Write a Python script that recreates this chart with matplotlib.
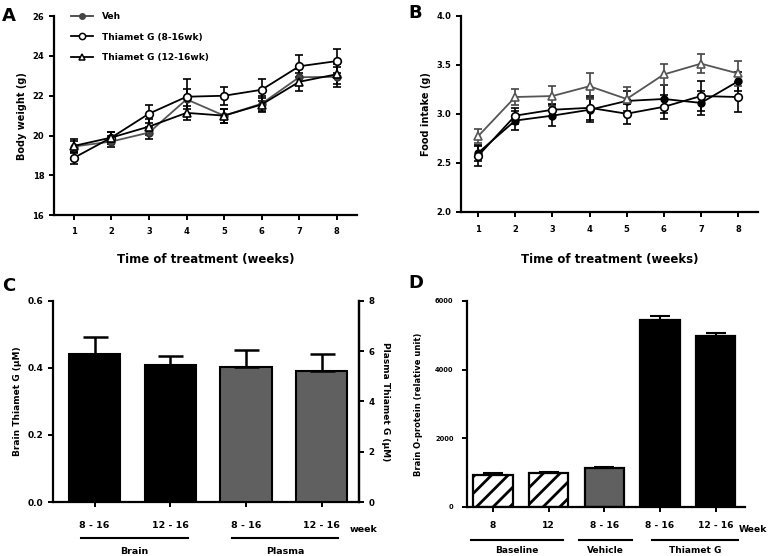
import numpy as np
import matplotlib
matplotlib.use("Agg")
import matplotlib.pyplot as plt
from matplotlib import transforms
from matplotlib.lines import Line2D

plt.rcParams['font.family'] = ['DejaVu Sans']
plt.rcParams['font.weight'] = 'bold'
plt.rcParams['axes.labelweight'] = 'bold'
plt.rcParams['hatch.linewidth'] = 2.0

# --- data ---
weeks = [1, 2, 3, 4, 5, 6, 7, 8]

bw_veh = [19.45, 19.7, 20.15, 21.82, 21.0, 21.6, 22.93, 22.95]
bw_veh_err = [0.3, 0.3, 0.3, 0.5, 0.35, 0.4, 0.4, 0.5]
bw_tg816 = [18.88, 19.9, 21.1, 21.95, 22.0, 22.3, 23.48, 23.74]
bw_tg816_err = [0.3, 0.3, 0.45, 0.9, 0.45, 0.55, 0.55, 0.6]
bw_tg1216 = [19.48, 19.9, 20.45, 21.14, 21.0, 21.56, 22.7, 23.08]
bw_tg1216_err = [0.35, 0.3, 0.4, 0.35, 0.35, 0.35, 0.45, 0.5]

fi_veh = [2.60, 2.93, 2.98, 3.04, 3.13, 3.15, 3.11, 3.33]
fi_veh_err = [0.08, 0.1, 0.11, 0.12, 0.1, 0.14, 0.12, 0.1]
fi_tg816 = [2.57, 2.98, 3.04, 3.06, 3.0, 3.07, 3.18, 3.17]
fi_tg816_err = [0.1, 0.08, 0.06, 0.12, 0.1, 0.12, 0.15, 0.15]
fi_tg1216 = [2.77, 3.17, 3.18, 3.28, 3.15, 3.40, 3.51, 3.41]
fi_tg1216_err = [0.07, 0.08, 0.1, 0.13, 0.12, 0.11, 0.1, 0.13]

c_labels = ["8 - 16", "12 - 16", "8 - 16", "12 - 16"]
brain_conc = [0.441, 0.41]
brain_err = [0.05, 0.024]
plasma_conc = [5.36, 5.22]
plasma_err = [0.68, 0.65]

d_labels = ["8", "12", "8 - 16", "8 - 16", "12 - 16"]
d_vals = [932, 990, 1117, 5456, 4990]
d_err = [38, 30, 48, 97, 78]

fig = plt.figure(figsize=(7.78, 5.56), dpi=100)

def style_axes(ax, right=False):
    for s in ['top', 'right']:
        if not (right and s == 'right'):
            ax.spines[s].set_visible(False)
    for s in ['left', 'bottom', 'right']:
        ax.spines[s].set_linewidth(1.6)
    ax.tick_params(width=1.4, length=3.5, labelsize=6)

# === A ===
axA = fig.add_axes([0.0694, 0.613, 0.389, 0.358])
axA.errorbar(weeks, bw_veh, yerr=bw_veh_err, color='#555555', marker='o', ms=5,
             mfc='#444444', mec='#333333', lw=1.3, capsize=3, elinewidth=1.2,
             ecolor='black', capthick=1.2)
axA.errorbar(weeks, bw_tg816, yerr=bw_tg816_err, color='black', marker='o', ms=5.5,
             mfc='white', mec='black', mew=1.2, lw=1.3, capsize=3, elinewidth=1.2,
             capthick=1.2)
axA.errorbar(weeks, bw_tg1216, yerr=bw_tg1216_err, color='black', marker='^', ms=5.5,
             mfc='white', mec='black', mew=1.2, lw=1.3, capsize=3, elinewidth=1.2,
             capthick=1.2)
axA.set_xlim(0.47, 8.53)
axA.set_ylim(16, 26)
axA.set_xticks(weeks)
axA.set_yticks([16, 18, 20, 22, 24, 26])
axA.set_xlabel("Time of treatment (weeks)", fontsize=8.5, labelpad=12)
axA.set_ylabel("Body weight (g)", fontsize=7)
style_axes(axA)
axA.tick_params(axis='x', pad=5)
handles = [
    Line2D([], [], color='#444444', marker='o', ms=4, mfc='#444444', lw=1.3),
    Line2D([], [], color='black', marker='o', ms=4.5, mfc='white', mew=1.1, lw=1.3),
    Line2D([], [], color='black', marker='^', ms=4.5, mfc='white', mew=1.1, lw=1.3),
]
axA.legend(handles, ['Veh', 'Thiamet G (8-16wk)', 'Thiamet G (12-16wk)'],
           loc='upper left', bbox_to_anchor=(0.03, 1.06), frameon=False, fontsize=6.5,
           handlelength=2.4, labelspacing=1.25, handletextpad=1.0)

# === B ===
axB = fig.add_axes([0.5925, 0.619, 0.382, 0.353])
axB.errorbar(weeks, fi_veh, yerr=fi_veh_err, color='black', marker='o', ms=5,
             mfc='black', mec='black', lw=1.3, capsize=3, elinewidth=1.2, capthick=1.2)
axB.errorbar(weeks, fi_tg816, yerr=fi_tg816_err, color='black', marker='o', ms=5.5,
             mfc='white', mec='black', mew=1.2, lw=1.3, capsize=3, elinewidth=1.2, capthick=1.2)
axB.errorbar(weeks, fi_tg1216, yerr=fi_tg1216_err, color='#555555', marker='^', ms=5.5,
             mfc='white', mec='#555555', mew=1.2, lw=1.3, capsize=3, elinewidth=1.2,
             ecolor='#444444', capthick=1.2)
axB.set_xlim(0.54, 8.54)
axB.set_ylim(2.0, 4.0)
axB.set_xticks(weeks)
axB.set_yticks([2.0, 2.5, 3.0, 3.5, 4.0])
axB.set_yticklabels(["2.0", "2.5", "3.0", "3.5", "4.0"])
axB.set_xlabel("Time of treatment (weeks)", fontsize=8.5, labelpad=14)
axB.set_ylabel("Food intake (g)", fontsize=7)
style_axes(axB)
axB.tick_params(axis='x', pad=6)

# === C ===
axC = fig.add_axes([0.0681, 0.097, 0.393, 0.362])
xc = np.arange(4)
axC.bar(xc[:2], brain_conc, width=0.68, color='black', edgecolor='black', lw=1.5)
axC.errorbar(xc[:2], brain_conc, yerr=[[0, 0], brain_err], fmt='none', ecolor='black',
             elinewidth=1.8, capsize=9, capthick=1.8)
axC.set_xlim(-0.55, 3.49)
axC.set_ylim(0, 0.6)
axC.set_yticks([0.0, 0.2, 0.4, 0.6])
axC.set_yticklabels(["0.0", "0.2", "0.4", "0.6"])
axC.set_xticks(xc)
axC.set_xticklabels(c_labels)
axC.set_ylabel("Brain Thiamet G (\u03bcM)", fontsize=6.5)
style_axes(axC, right=True)
axC.tick_params(axis='y', labelsize=6.5)
axC.tick_params(axis='x', labelsize=6.8, pad=10)
axC2 = axC.twinx()
axC2.bar(xc[2:], plasma_conc, width=0.68, color='#606060', edgecolor='black', lw=1.5)
axC2.errorbar(xc[2:], plasma_conc, yerr=[[0, 0], plasma_err], fmt='none', ecolor='black',
              elinewidth=1.8, capsize=9, capthick=1.8)
axC2.set_ylim(0, 8)
axC2.set_yticks([0, 2, 4, 6, 8])
axC2.set_ylabel("Plasma Thiamet G (\u03bcM)", fontsize=6.5, rotation=-90, labelpad=11)
for s in ['top', 'left', 'bottom']:
    axC2.spines[s].set_visible(False)
axC2.spines['right'].set_linewidth(1.6)
axC2.tick_params(width=1.4, length=3.5, labelsize=6.2)
axC.text(0.97, -0.135, "week", transform=axC.transAxes, fontsize=6.8, ha='left', va='center')

trC = transforms.blended_transform_factory(axC.transData, axC.transAxes)
for (x0, x1, name) in [(-0.18, 1.24, "Brain"), (1.82, 3.22, "Plasma")]:
    axC.plot([x0, x1], [-0.18, -0.18], color='black', lw=1.5, transform=trC, clip_on=False)
    axC.text((x0 + x1) / 2, -0.245, name, transform=trC, fontsize=6.8, ha='center', va='center')

# === D ===
axD = fig.add_axes([0.600, 0.0887, 0.357, 0.370])
xd = np.arange(5)
axD.bar(xd[:2], d_vals[:2], width=0.71, color='white', edgecolor='black', lw=1.6, hatch='//')
axD.bar(xd[2:3], d_vals[2:3], width=0.71, color='#606060', edgecolor='black', lw=1.6)
axD.bar(xd[3:], d_vals[3:], width=0.71, color='black', edgecolor='black', lw=1.6)
axD.errorbar(xd, d_vals, yerr=[[0] * 5, d_err], fmt='none', ecolor='black',
             elinewidth=1.5, capsize=7, capthick=1.5)
axD.set_xlim(-0.47, 4.52)
axD.set_ylim(0, 6000)
axD.set_yticks([0, 2000, 4000, 6000])
axD.set_xticks(xd)
axD.set_xticklabels(d_labels)
axD.set_ylabel("Brain O-protein (relative unit)", fontsize=6, labelpad=9)
style_axes(axD)
axD.tick_params(axis='y', labelsize=4.8, pad=6)
axD.tick_params(axis='x', labelsize=6.6, pad=7)
axD.text(0.978, -0.11, "Week", transform=axD.transAxes, fontsize=6.6, ha='left', va='center')

trD = transforms.blended_transform_factory(axD.transData, axD.transAxes)
for (x0, x1, name) in [(-0.39, 1.25, "Baseline"), (1.55, 2.5, "Vehicle"), (2.85, 4.4, "Thiamet G")]:
    axD.plot([x0, x1], [-0.16, -0.16], color='black', lw=1.5, transform=trD, clip_on=False)
    axD.text((x0 + x1) / 2, -0.215, name, transform=trD, fontsize=6.5, ha='center', va='center')

# panel letters
fig.text(0.003, 0.988, "A", fontsize=13, fontweight='bold', va='top')
fig.text(0.525, 0.992, "B", fontsize=13, fontweight='bold', va='top')
fig.text(0.003, 0.502, "C", fontsize=13, fontweight='bold', va='top')
fig.text(0.525, 0.508, "D", fontsize=13, fontweight='bold', va='top')

fig.savefig("out.png", dpi=100)
